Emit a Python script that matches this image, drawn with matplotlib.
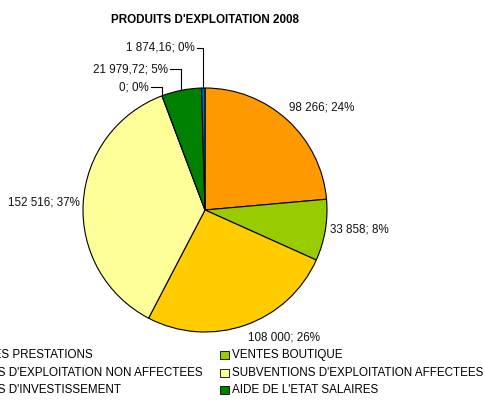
import numpy as np
import matplotlib
matplotlib.use("Agg")
import matplotlib.pyplot as plt
from matplotlib.patches import Rectangle

plt.rcParams['font.family'] = ['Liberation Sans', 'DejaVu Sans']

# data
categories = ["PRODUITS DES PRESTATIONS",
              "VENTES BOUTIQUE",
              "SUBVENTIONS D'EXPLOITATION NON AFFECTEES",
              "SUBVENTIONS D'EXPLOITATION AFFECTEES",
              "SUBVENTIONS D'INVESTISSEMENT",
              "AIDE DE L'ETAT SALAIRES",
              "PRODUITS FINANCIERS"]
values = [98266, 33858, 108000, 152516, 0, 21979.72, 1874.16]
colors = ["#FF9900", "#99CC00", "#FFCC00", "#FFFF99", "#CC99FF", "#008000", "#0066CC"]

# label placement in pixels (x, y from top, alignment, leader line)
label_pos = [(289, 108, 'left', False),
             (330, 230, 'left', False),
             (284, 337, 'center', False),
             (80, 203, 'right', False),
             (149, 87, 'right', True),
             (168, 69, 'right', True),
             (195, 48, 'right', True)]

W, H = 485, 409
FS = 8.4
cx, cy, R = 205, H - 210, 122

def fmt_val(v):
    if float(v).is_integer():
        s = f"{int(v):,}".replace(",", " ")
    else:
        s = f"{v:,.2f}".replace(",", " ").replace(".", ",")
    return s

fig = plt.figure(figsize=(W / 100, H / 100), dpi=100)
ax = fig.add_axes([0, 0, 1, 1])
wedges, _ = ax.pie(values, colors=colors, startangle=90, counterclock=False,
                   center=(cx, cy), radius=R,
                   wedgeprops=dict(edgecolor='black', linewidth=0.8))
ax.set_xlim(0, W)
ax.set_ylim(0, H)
ax.set_aspect('equal')
ax.axis('off')

total = sum(values)
for w, v, (lx, ly, ha, leader) in zip(wedges, values, label_pos):
    txt = f"{fmt_val(v)}; {round(v / total * 100):.0f}%"
    ax.text(lx, H - ly, txt, ha=ha, va='center', fontsize=FS, color='#111111')
    if leader:
        mid = np.deg2rad((w.theta1 + w.theta2) / 2)
        px, py = cx + R * np.cos(mid), cy + R * np.sin(mid)
        ax.plot([lx + 2, px, px], [H - ly, H - ly, py], color='black', lw=0.8)

fig.text(205 / W, 1 - 20 / H, "PRODUITS D'EXPLOITATION 2008", ha='center', va='center',
         fontsize=FS, fontweight='bold')

# legend (two columns, row-major, clipped by the chart area)
# left column: longest text ends at x=203 px
renderer = fig.canvas.get_renderer()
left_names = categories[0:6:2]
widths = []
for name in left_names:
    t = ax.text(0, 0, name, fontsize=FS)
    widths.append(t.get_window_extent(renderer).width)
    t.remove()
col_x = [203 - max(widths) - 12, 220]
row_y = [355, 373, 390]
for i, (name, c) in enumerate(zip(categories[:6], colors[:6])):
    mx = col_x[i % 2]
    my = H - row_y[i // 2]
    ax.add_patch(Rectangle((mx, my - 4), 9, 8, facecolor=c, edgecolor='black', lw=0.6))
    ax.text(mx + 12, my, name, ha='left', va='center', fontsize=FS)

fig.savefig("out.png", dpi=100)
